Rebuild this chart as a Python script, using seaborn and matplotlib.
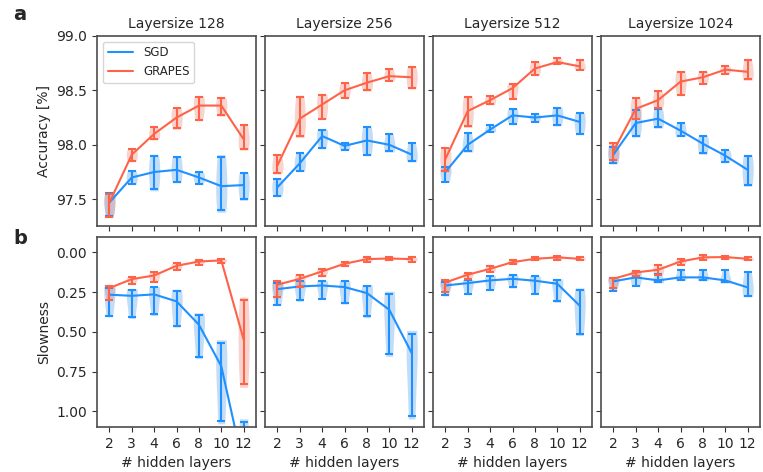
import numpy as np
import pandas as pd
import seaborn as sns
import matplotlib.pyplot as plt

layers = ['2', '3', '4', '6', '8', '10', '12']
sizes = [128, 256, 512, 1024]

# accuracy [%], one row per layersize: centre line, lower / upper end of the error bar
acc_sgd_mid = [[97.47, 97.70, 97.75, 97.77, 97.70, 97.62, 97.63],
               [97.61, 97.83, 98.08, 97.99, 98.04, 98.00, 97.91],
               [97.75, 98.00, 98.14, 98.27, 98.25, 98.27, 98.21],
               [97.91, 98.20, 98.24, 98.13, 98.01, 97.90, 97.77]]
acc_sgd_lo = [[97.35, 97.64, 97.59, 97.66, 97.64, 97.40, 97.50],
              [97.53, 97.76, 97.97, 97.95, 97.91, 97.94, 97.85],
              [97.66, 97.94, 98.12, 98.19, 98.21, 98.18, 98.10],
              [97.83, 98.08, 98.16, 98.08, 97.92, 97.84, 97.63]]
acc_sgd_hi = [[97.56, 97.76, 97.90, 97.89, 97.75, 97.89, 97.74],
              [97.69, 97.92, 98.14, 98.02, 98.16, 98.10, 98.02],
              [97.80, 98.11, 98.18, 98.33, 98.28, 98.34, 98.29],
              [97.98, 98.32, 98.33, 98.20, 98.08, 97.95, 97.90]]
acc_gr_mid = [[97.47, 97.91, 98.10, 98.25, 98.36, 98.36, 98.05],
              [97.81, 98.24, 98.37, 98.50, 98.57, 98.63, 98.62],
              [97.87, 98.31, 98.41, 98.52, 98.70, 98.76, 98.72],
              [97.94, 98.33, 98.41, 98.58, 98.62, 98.69, 98.67]]
acc_gr_lo = [[97.34, 97.85, 98.05, 98.15, 98.23, 98.27, 97.96],
             [97.74, 98.08, 98.24, 98.43, 98.50, 98.59, 98.52],
             [97.76, 98.17, 98.37, 98.42, 98.64, 98.74, 98.69],
             [97.86, 98.24, 98.34, 98.46, 98.56, 98.65, 98.60]]
acc_gr_hi = [[97.55, 97.96, 98.16, 98.34, 98.44, 98.43, 98.18],
             [97.91, 98.44, 98.46, 98.57, 98.66, 98.70, 98.71],
             [97.97, 98.44, 98.45, 98.56, 98.76, 98.80, 98.78],
             [98.02, 98.43, 98.49, 98.67, 98.67, 98.72, 98.78]]

# slowness
slow_sgd_mid = [[0.266, 0.273, 0.264, 0.308, 0.455, 0.717, 1.350],
                [0.231, 0.214, 0.208, 0.218, 0.256, 0.361, 0.633],
                [0.208, 0.193, 0.176, 0.166, 0.178, 0.197, 0.335],
                [0.182, 0.157, 0.176, 0.157, 0.157, 0.176, 0.220]]
slow_sgd_lo = [[0.224, 0.235, 0.220, 0.241, 0.392, 0.570, 1.070],
               [0.193, 0.182, 0.182, 0.182, 0.210, 0.260, 0.512],
               [0.189, 0.172, 0.147, 0.140, 0.151, 0.172, 0.235],
               [0.161, 0.115, 0.134, 0.113, 0.113, 0.113, 0.124]]
slow_sgd_hi = [[0.398, 0.409, 0.390, 0.461, 0.658, 1.059, 1.620],
               [0.329, 0.302, 0.291, 0.319, 0.403, 0.639, 1.027],
               [0.270, 0.262, 0.235, 0.220, 0.260, 0.308, 0.512],
               [0.241, 0.210, 0.189, 0.172, 0.176, 0.189, 0.273]]
slow_gr_mid = [[0.224, 0.168, 0.145, 0.084, 0.057, 0.050, 0.549],
               [0.203, 0.166, 0.119, 0.071, 0.042, 0.038, 0.042],
               [0.189, 0.140, 0.103, 0.061, 0.040, 0.031, 0.040],
               [0.166, 0.126, 0.109, 0.057, 0.031, 0.029, 0.040]]
slow_gr_lo = [[0.210, 0.157, 0.124, 0.067, 0.046, 0.040, 0.302],
              [0.182, 0.140, 0.105, 0.061, 0.031, 0.029, 0.031],
              [0.172, 0.130, 0.088, 0.050, 0.029, 0.021, 0.029],
              [0.161, 0.119, 0.082, 0.042, 0.019, 0.021, 0.029]]
slow_gr_hi = [[0.298, 0.199, 0.187, 0.109, 0.078, 0.067, 0.828],
              [0.281, 0.218, 0.151, 0.088, 0.057, 0.050, 0.061],
              [0.249, 0.168, 0.124, 0.071, 0.050, 0.050, 0.050],
              [0.224, 0.147, 0.140, 0.078, 0.046, 0.042, 0.050]]

colors = {'SGD': '#1e90ff', 'GRAPES': '#ff6347'}

sns.set_style('ticks')
plt.rcParams['font.family'] = ['DejaVu Sans']
plt.rcParams['axes.edgecolor'] = '0.3'

fig, axes = plt.subplots(2, 4, figsize=(7.63, 4.72), dpi=100, sharex=True)
fig.subplots_adjust(left=0.127, right=0.996, top=0.924, bottom=0.095,
                    wspace=0.056, hspace=0.053)

metrics = [
    {'SGD': (acc_sgd_lo, acc_sgd_mid, acc_sgd_hi),
     'GRAPES': (acc_gr_lo, acc_gr_mid, acc_gr_hi)},
    {'SGD': (slow_sgd_lo, slow_sgd_mid, slow_sgd_hi),
     'GRAPES': (slow_gr_lo, slow_gr_mid, slow_gr_hi)},
]

pos = np.arange(len(layers))
for r, metric in enumerate(metrics):
    for c, size in enumerate(sizes):
        ax = axes[r, c]
        # long table of the three read values per point for the violins
        rows = []
        for opt, (lo, mid, hi) in metric.items():
            for i, lay in enumerate(layers):
                for v in (lo[c][i], mid[c][i], hi[c][i]):
                    rows.append({'layers': lay, 'value': v, 'opt': opt})
        df = pd.DataFrame(rows)
        sns.violinplot(data=df, x='layers', y='value', hue='opt', order=layers,
                       hue_order=['SGD', 'GRAPES'], palette=colors, dodge=False,
                       inner=None, cut=0.1, bw_adjust=1.0, linewidth=0, width=0.5,
                       density_norm='width', alpha=0.3, legend=False, ax=ax)
        for opt, (lo, mid, hi) in metric.items():
            m = np.array(mid[c])
            err = [m - np.array(lo[c]), np.array(hi[c]) - m]
            ax.plot(pos, m, color=colors[opt], lw=1.5, label=opt)
            ax.errorbar(pos, m, yerr=err, fmt='none', ecolor=colors[opt],
                        elinewidth=1.5, capsize=3, capthick=1.5)

        ax.set_xlim(-0.56, 6.55)
        ax.set_xlabel('')
        ax.set_ylabel('')
        ax.tick_params(labelsize=10, color='0.2')
        if r == 0:
            ax.set_ylim(97.25, 99.0)
            ax.set_yticks([97.5, 98.0, 98.5, 99.0])
            ax.set_yticklabels(['97.5', '98.0', '98.5', '99.0'])
            ax.set_title(f'Layersize {size}', fontsize=10)
        else:
            ax.set_ylim(1.1, -0.1)
            ax.set_yticks([0.0, 0.25, 0.5, 0.75, 1.0])
            ax.set_yticklabels(['0.00', '0.25', '0.50', '0.75', '1.00'])
            ax.set_xlabel('# hidden layers', fontsize=10)
        if c > 0:
            ax.tick_params(labelleft=False)
        for sp in ax.spines.values():
            sp.set_linewidth(1.2)

axes[0, 0].set_ylabel('Accuracy [%]', fontsize=10)
axes[1, 0].set_ylabel('Slowness', fontsize=10)
axes[0, 0].legend(loc='upper left', fontsize=8.5, handlelength=2.2,
                  frameon=True)

fig.text(0.017, 0.958, 'a', fontsize=14, fontweight='bold')
fig.text(0.017, 0.482, 'b', fontsize=14, fontweight='bold')

fig.savefig('out.png', dpi=100)
